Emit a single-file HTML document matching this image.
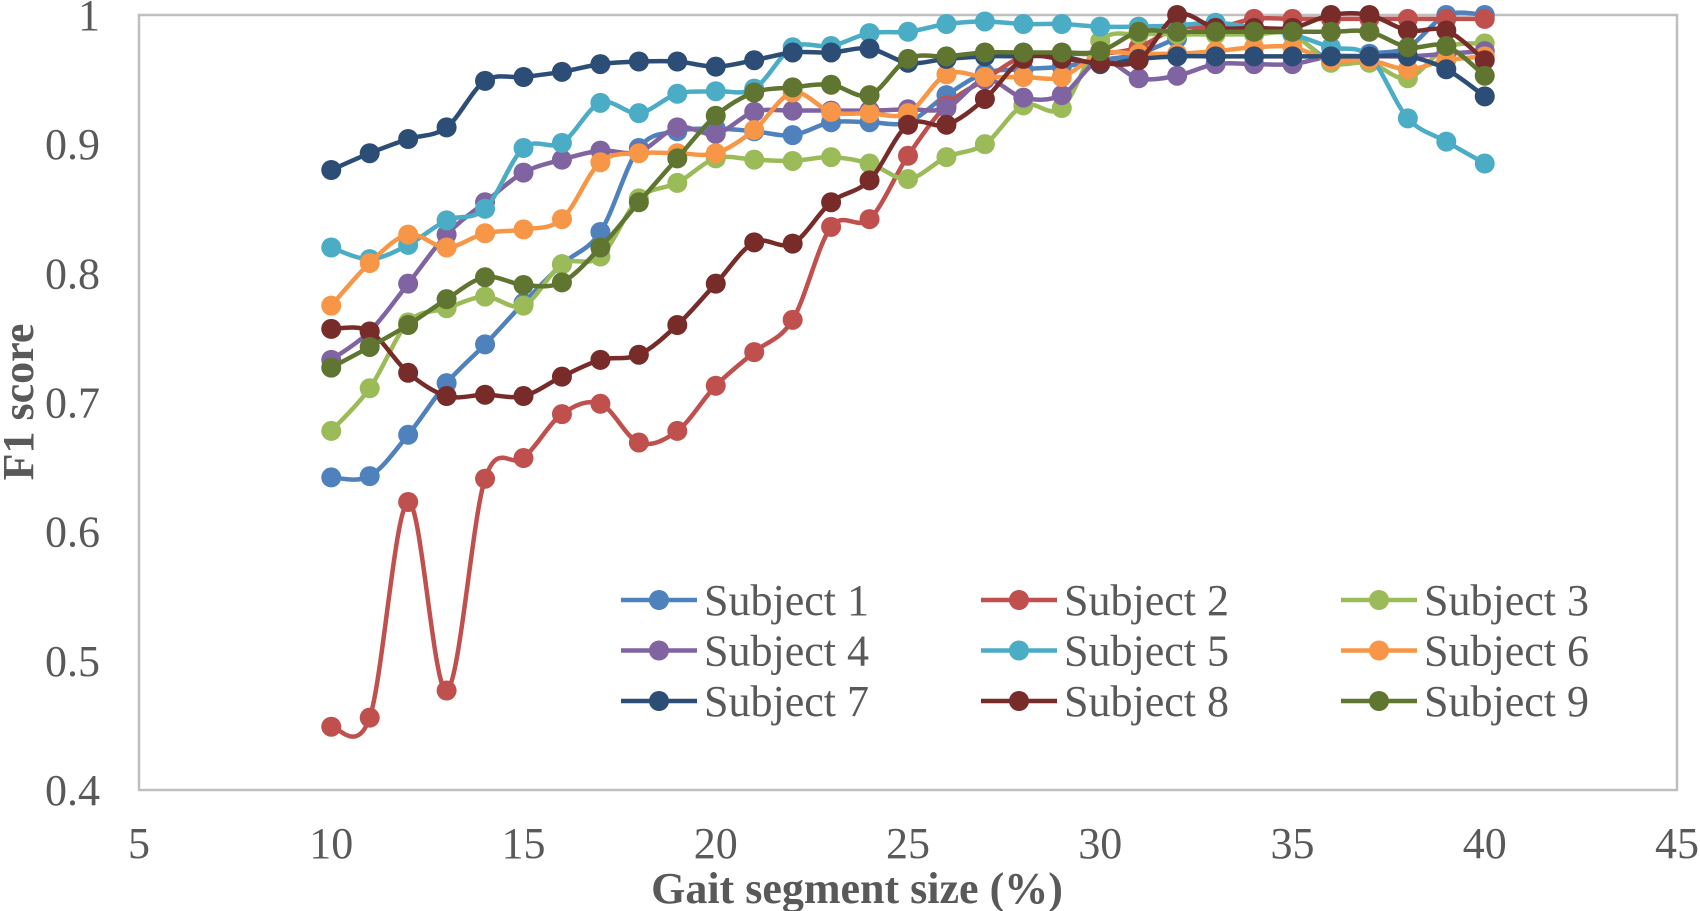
<!DOCTYPE html>
<html><head><meta charset="utf-8">
<style>
html,body{margin:0;padding:0;background:#fff;}
svg{display:block;}
text{font-family:"Liberation Serif",serif;fill:#595959;}
</style></head>
<body>
<svg id="chart" width="1700" height="911" viewBox="0 0 1700 911" xmlns="http://www.w3.org/2000/svg">
<rect x="139" y="15" width="1538" height="775" fill="#fff" stroke="#BFBFBF" stroke-width="2.5"/>
<g id="yticks"></g><g id="xticks"></g><g id="series"></g><g id="legend"></g>
<text x="33" y="402" transform="rotate(-90 33 402)" text-anchor="middle" font-size="44" font-weight="bold">F1 score</text>
<text x="857" y="903" text-anchor="middle" font-size="44" font-weight="bold">Gait segment size (%)</text>
</svg>
<script>
const xTicks = [5,10,15,20,25,30,35,40,45];
const yTicks = [0.4,0.5,0.6,0.7,0.8,0.9,1];
const yTickLabels = ["0.4","0.5","0.6","0.7","0.8","0.9","1"];
const segmentSizes = [10,11,12,13,14,15,16,17,18,19,20,21,22,23,24,25,26,27,28,29,30,31,32,33,34,35,36,37,38,39,40];
const seriesNames = ["Subject 1","Subject 2","Subject 3","Subject 4","Subject 5","Subject 6","Subject 7","Subject 8","Subject 9"];
const subject1 = [0.642,0.643,0.675,0.715,0.745,0.777,0.807,0.832,0.897,0.91,0.912,0.91,0.907,0.917,0.917,0.917,0.938,0.955,0.958,0.96,0.965,0.97,0.982,0.993,0.99,0.985,0.965,0.97,0.975,1.0,1.0];
const subject2 = [0.449,0.456,0.623,0.477,0.641,0.657,0.691,0.699,0.669,0.678,0.713,0.739,0.764,0.836,0.842,0.891,0.93,0.95,0.968,0.97,0.97,0.975,0.99,0.99,0.997,0.997,0.997,0.997,0.997,0.997,0.997];
const subject3 = [0.678,0.711,0.762,0.773,0.782,0.775,0.807,0.813,0.858,0.87,0.889,0.888,0.887,0.89,0.885,0.873,0.89,0.9,0.93,0.928,0.98,0.985,0.985,0.985,0.985,0.985,0.963,0.963,0.951,0.975,0.978];
const subject4 = [0.733,0.755,0.792,0.83,0.855,0.878,0.888,0.895,0.894,0.913,0.908,0.925,0.926,0.926,0.926,0.927,0.928,0.95,0.936,0.938,0.965,0.951,0.953,0.962,0.962,0.962,0.968,0.968,0.968,0.97,0.972];
const subject5 = [0.82,0.811,0.822,0.841,0.85,0.897,0.901,0.932,0.924,0.939,0.941,0.943,0.975,0.976,0.986,0.987,0.993,0.995,0.993,0.993,0.991,0.991,0.992,0.994,0.99,0.985,0.975,0.968,0.92,0.902,0.885];
const subject6 = [0.775,0.808,0.83,0.82,0.831,0.834,0.842,0.886,0.893,0.893,0.893,0.911,0.94,0.925,0.924,0.924,0.954,0.952,0.952,0.952,0.97,0.97,0.97,0.972,0.975,0.975,0.965,0.965,0.958,0.965,0.968];
const subject7 = [0.88,0.893,0.904,0.913,0.949,0.952,0.956,0.962,0.964,0.964,0.96,0.965,0.971,0.971,0.974,0.963,0.966,0.968,0.968,0.968,0.962,0.966,0.968,0.968,0.968,0.968,0.968,0.968,0.968,0.958,0.937];
const subject8 = [0.757,0.755,0.723,0.705,0.706,0.705,0.72,0.733,0.737,0.76,0.792,0.824,0.823,0.855,0.872,0.915,0.915,0.935,0.966,0.966,0.963,0.965,1.0,0.99,0.99,0.99,1.0,1.0,0.988,0.988,0.965];
const subject9 = [0.727,0.743,0.76,0.78,0.797,0.791,0.793,0.82,0.855,0.889,0.922,0.94,0.944,0.946,0.938,0.966,0.968,0.971,0.971,0.971,0.972,0.987,0.987,0.987,0.987,0.987,0.987,0.987,0.975,0.976,0.953];
const seriesColors = ["#4F81BD","#C0504D","#9BBB59","#8064A2","#4BACC6","#F79646","#2C4D75","#772C2A","#5F7530"];
const allSeries = [subject1,subject2,subject3,subject4,subject5,subject6,subject7,subject8,subject9];

const NS = "http://www.w3.org/2000/svg";
const L=139,R=1677,T=15,B=790;
function xScale(v){return L+(v-5)/(45-5)*(R-L);}
function yScale(v){return B-(v-0.4)/(1-0.4)*(B-T);}
function mk(tag,attrs,parent){const e=document.createElementNS(NS,tag);for(const k in attrs)e.setAttribute(k,attrs[k]);parent.appendChild(e);return e;}

const yg=document.getElementById('yticks');
yTicks.forEach((t,i)=>{
  const tx=mk('text',{x:100,y:yScale(t)+15,'text-anchor':'end','font-size':44},yg);
  tx.textContent=yTickLabels[i];
  
  
});
const xg=document.getElementById('xticks');
xTicks.forEach(t=>{
  const tx=mk('text',{x:xScale(t),y:858,'text-anchor':'middle','font-size':44},xg);
  tx.textContent=String(t);
  
  
});

function smoothPath(pts){
  let d='M'+pts[0][0]+','+pts[0][1];
  for(let i=0;i<pts.length-1;i++){
    const p0=pts[i-1]||pts[i],p1=pts[i],p2=pts[i+1],p3=pts[i+2]||p2;
    const c1x=p1[0]+(p2[0]-p0[0])/6,c1y=p1[1]+(p2[1]-p0[1])/6;
    const c2x=p2[0]-(p3[0]-p1[0])/6,c2y=p2[1]-(p3[1]-p1[1])/6;
    d+=' C'+c1x+','+c1y+' '+c2x+','+c2y+' '+p2[0]+','+p2[1];
  }
  return d;
}
const sg=document.getElementById('series');
allSeries.forEach((vals,si)=>{
  const g=mk('g',{},sg);
  
  
  const pts=vals.map((v,i)=>[xScale(segmentSizes[i]),yScale(v)]);
  const p=mk('path',{d:smoothPath(pts),fill:'none',stroke:seriesColors[si],'stroke-width':4.5,'stroke-linejoin':'round'},g);
  
  
  pts.forEach(pt=>{
    const c=mk('circle',{cx:pt[0],cy:pt[1],r:10,fill:seriesColors[si]},g);
    
    
  });
});

const lg=document.getElementById('legend');
seriesNames.forEach((n,i)=>{
  const col=i%3,row=Math.floor(i/3);
  const x0=621+col*360,y0=600+row*50.5;
  const g=mk('g',{},lg);
  
  
  mk('line',{x1:x0,y1:y0,x2:x0+76,y2:y0,stroke:seriesColors[i],'stroke-width':4.5},g);
  mk('circle',{cx:x0+38,cy:y0,r:10,fill:seriesColors[i]},g);
  const t=mk('text',{x:x0+83,y:y0+15,'font-size':44},g);
  t.textContent=n;
});
</script>
</body></html>
